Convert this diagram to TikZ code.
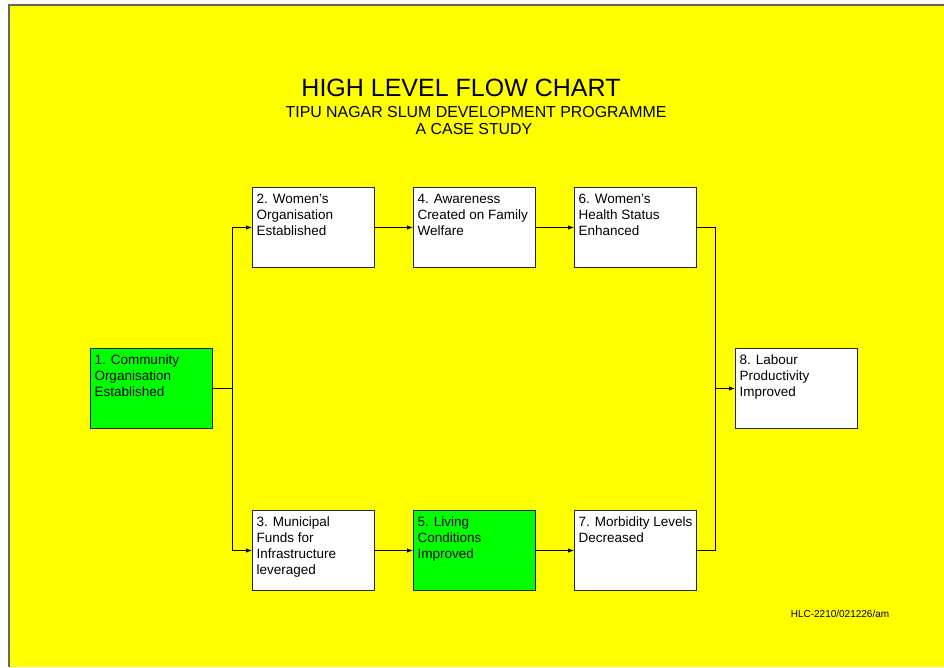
\documentclass[tikz,border=0pt]{standalone}
\usepackage{fontspec}
\setmainfont{Liberation Sans}
\usetikzlibrary{arrows.meta}
\definecolor{slideyellow}{RGB}{255,255,0}
\definecolor{stepgreen}{RGB}{0,255,0}
\newcommand{\boxtxt}[1]{\parbox[c][70pt][t]{114pt}{\fontsize{13.5}{16}\selectfont\raggedright\strut #1}}
\tikzset{
  stepbox/.style={draw=black!85,line width=1pt,fill=white,inner xsep=4pt,inner ysep=5pt,anchor=north west},
  donebox/.style={stepbox,fill=stepgreen},
  flow/.style={line width=0.9pt,-{Latex[length=6pt,width=4.5pt]}},
  link/.style={line width=0.9pt}
}
\begin{document}
\begin{tikzpicture}[x=1pt,y=-1pt]
        \useasboundingbox (0,0) rectangle (944,667);
        \fill [slideyellow] (9,5) rectangle (944,667);
        \draw [black!60,line width=1.2pt] (9,667) -- (9,5) -- (944,5);
        % titles
        \node[anchor=base] at (461,96) (title){\fontsize{25}{28}\selectfont HIGH LEVEL FLOW CHART};
        \node[anchor=base] at (476,117) (sub1){\fontsize{15.9}{17}\selectfont TIPU NAGAR SLUM DEVELOPMENT PROGRAMME};
        \node[anchor=base] at (474,134) (sub2){\fontsize{15.9}{17}\selectfont A CASE STUDY};
        % boxes
        \node[donebox] at (90,348) (n1){\boxtxt{1. Community\\Organisation\\Established}};
        \node[stepbox] at (252,187) (n2){\boxtxt{2. Women's\\Organisation\\Established}};
        \node[stepbox] at (252,510) (n3){\boxtxt{3. Municipal\\Funds for\\Infrastructure\\leveraged}};
        \node[stepbox] at (413,187) (n4){\boxtxt{4. Awareness\\Created on Family\\Welfare}};
        \node[donebox] at (413,510) (n5){\boxtxt{5. Living\\Conditions\\Improved}};
        \node[stepbox] at (574,187) (n6){\boxtxt{6. Women's\\Health Status\\Enhanced}};
        \node[stepbox] at (574,510) (n7){\boxtxt{7. Morbidity Levels\\Decreased}};
        \node[stepbox] at (735,348) (n8){\boxtxt{8. Labour\\Productivity\\Improved}};
        % connectors
        \coordinate (jl) at (232,0 |- n1.east);
        \coordinate (jr) at (715,0 |- n8.west);
        \draw[link] (n1.east) -- (jl);
        \draw[flow] (jl) |- (n2.west);
        \draw[flow] (jl) |- (n3.west);
        \draw[flow] (n2) -- (n4);
        \draw[flow] (n4) -- (n6);
        \draw[flow] (n3) -- (n5);
        \draw[flow] (n5) -- (n7);
        \draw[link] (n6.east) -| (jr);
        \draw[link] (n7.east) -| (jr);
        \draw[flow] (jr) -- (n8.west);
        \node[anchor=base] at (840,617) (ref){\fontsize{10}{12}\selectfont HLC-2210/021226/am};
    \end{tikzpicture}
\end{document}
